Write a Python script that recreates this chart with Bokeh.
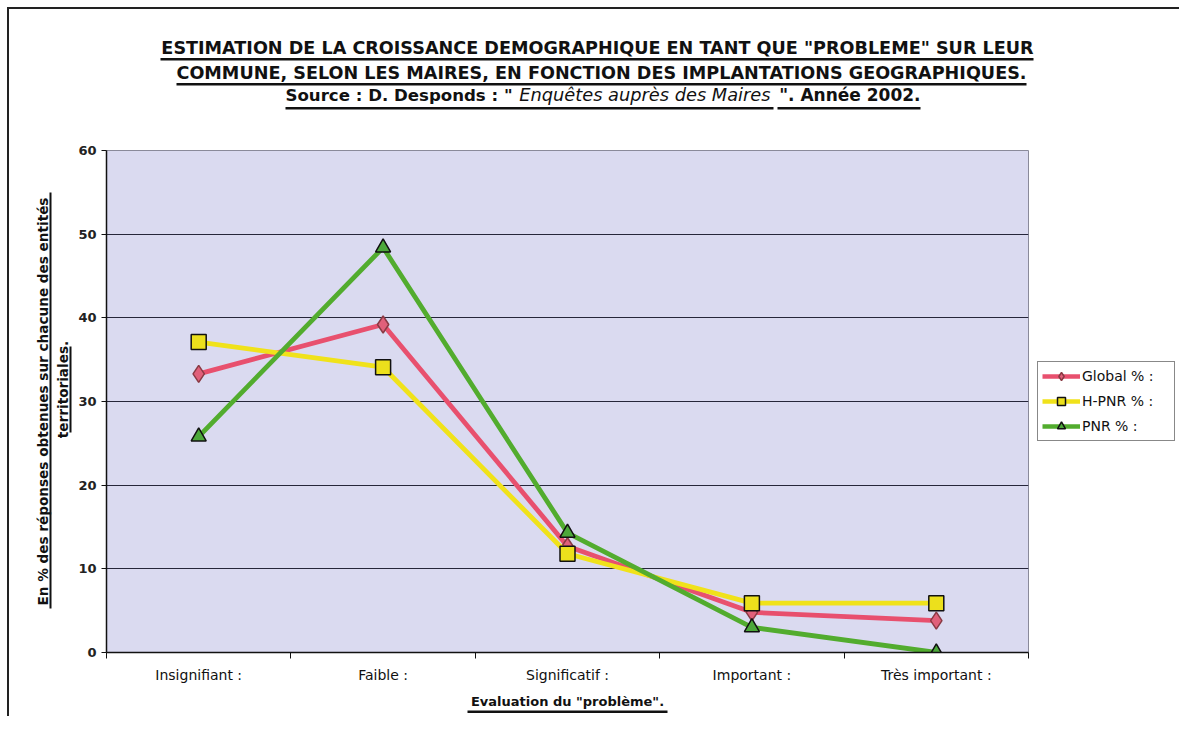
import math
from bokeh.plotting import figure
from bokeh.layouts import column, row
from bokeh.models import FixedTicker, Legend, LegendItem, Range1d
from bokeh.embed import file_html
from bokeh.resources import INLINE
from bokeh.core.properties import value

# ---------------- data ----------------
categories = ["Insignifiant :", "Faible :", "Significatif :", "Important :", "Très important :"]
global_pct = [33.3, 39.2, 12.7, 4.8, 3.8]
hpnr_pct = [37.1, 34.1, 11.8, 5.9, 5.9]
pnr_pct = [25.8, 48.4, 14.3, 3.0, 0.0]
series_names = ["Global % :", "H-PNR % :", "PNR % :"]
y_ticks = [0, 10, 20, 30, 40, 50, 60]
title_line1 = "ESTIMATION DE LA CROISSANCE DEMOGRAPHIQUE EN TANT QUE \"PROBLEME\" SUR LEUR"
title_line2 = "COMMUNE, SELON LES MAIRES, EN FONCTION DES IMPLANTATIONS GEOGRAPHIQUES."
source_a = "Source : D. Desponds : \""
source_b = "Enquêtes auprès des Maires"
source_c = "\". Année 2002."
y_title1 = "En % des réponses obtenues sur chacune des entités"
y_title2 = "territoriales."
x_title = "Evaluation du \"problème\"."

FONT = "DejaVu Sans"
INK = "#111111"
NAN = float("nan")

# ---------------- layout (page pixels) ----------------
OX, OY = 9, 9          # content origin on the page
W = 1170               # total width
MID_TOP, MID_BOT = 140, 690
B_BOT = 716
L_RIGHT = 72           # left strip: page x 9..72
R_LEFT = 1030          # right strip: page x 1030..1179
FRAME_L, FRAME_R, FRAME_T, FRAME_B = 106, 1028, 150, 652
BASE_FIX = 0.38        # alphabetic baseline correction (em)
TOP_PAD, BOT_PAD = FRAME_T - MID_TOP, MID_BOT - FRAME_B


def strip(width, height, top=0, bottom=0):
    f = figure(width=width, height=height, x_range=Range1d(0, width),
               y_range=Range1d(0, height - top - bottom),
               x_axis_type=None, y_axis_type=None, output_backend="svg", toolbar_location=None,
               min_border_left=0, min_border_right=0, min_border_top=top, min_border_bottom=bottom,
               outline_line_color=None, background_fill_color="white",
               border_fill_color="white")
    f.grid.visible = False
    return f


def make_helpers(fig, left, bottom):
    def xy(X, Y):
        return X - left, bottom - Y

    def text(txt, X, Y, size, style="bold", align="center"):
        x, y = xy(X, Y - BASE_FIX * size)
        fig.text(x=[x], y=[y], text=[txt], text_font=value(FONT), text_font_size=f"{size}px",
                 text_font_style=style, text_align=align, text_baseline="alphabetic",
                 text_color=INK)

    def line(X0, X1, Y0, Y1):
        x0, y0 = xy(X0, Y0)
        x1, y1 = xy(X1, Y1)
        fig.quad(left=[x0], right=[x1], top=[y0], bottom=[y1], fill_color=INK, line_color=None)

    return xy, text, line


# title strip: page y 9..140
T = strip(W, MID_TOP - OY)
_, t_text, t_line = make_helpers(T, OX, MID_TOP)
t_text(title_line1, 597, 54, 17.6)
t_line(160, 1033, 57.5, 60)
t_text(title_line2, 601, 79, 17.6)
t_line(176, 1026, 82.5, 85)
t_text(source_a, 285, 101, 16.6, align="left")
t_text(source_b, 770, 101, 17.8, style="italic", align="right")
t_text(source_c, 920, 101, 17, align="right")
t_line(285, 773, 106.5, 109)
t_line(777, 920, 106.5, 109)

# left strip (rotated y title); its frame spans page y FRAME_T..FRAME_B
L = strip(L_RIGHT - OX, MID_BOT - MID_TOP, TOP_PAD, BOT_PAD)
l_xy, _, l_line = make_helpers(L, OX, FRAME_B)


def l_text(txt, X, Y, size):
    x, y = l_xy(X, Y)
    L.text(x=[x], y=[y], text=[txt], text_font=value(FONT), text_font_size=f"{size}px",
           text_font_style="bold", text_align="center", text_baseline="middle",
           angle=math.pi / 2, text_color=INK)


l_text(y_title1, 42, 401, 13.6)
l_line(49, 51, 192, 608)
l_text(y_title2, 62, 389, 13.6)
l_line(69, 71, 346, 432)

# bottom strip (x title)
B = strip(W, B_BOT - MID_BOT)
_, b_text, b_line = make_helpers(B, OX, B_BOT)
b_text(x_title, 567, 706, 13)
b_line(467, 667, 710, 712.5)

# ---------------- main chart ----------------
xs = [i + 0.5 for i in range(len(categories))]
p = figure(width=R_LEFT - L_RIGHT, height=MID_BOT - MID_TOP,
           x_range=Range1d(0, len(categories)), y_range=Range1d(0, 60),
           output_backend="svg", toolbar_location=None,
           min_border_left=FRAME_L - L_RIGHT, min_border_top=TOP_PAD,
           min_border_right=R_LEFT - FRAME_R, min_border_bottom=BOT_PAD,
           background_fill_color="#dadaf0", border_fill_color="white")
p.outline_line_color = "#8a8a9a"
p.outline_line_width = 1

p.xgrid.visible = False
p.ygrid.grid_line_color = "#26263a"
p.ygrid.grid_line_width = 1.2
p.ygrid.ticker = FixedTicker(ticks=y_ticks)

p.xaxis.ticker = FixedTicker(ticks=xs, minor_ticks=list(range(len(categories) + 1)))
p.xaxis.major_label_overrides = {x: c for x, c in zip(xs, categories)}
p.xaxis.major_tick_line_color = None
p.xaxis.minor_tick_line_color = INK
p.xaxis.minor_tick_out = 6
p.xaxis.minor_tick_in = 0
p.xaxis.axis_line_color = INK
p.xaxis.axis_line_width = 1.5
p.xaxis.major_label_standoff = 8
p.xaxis.major_label_text_font = FONT
p.xaxis.major_label_text_font_size = "14px"
p.xaxis.major_label_text_color = INK

p.yaxis.ticker = FixedTicker(ticks=y_ticks)
p.yaxis.major_tick_out = 5
p.yaxis.major_tick_in = 0
p.yaxis.major_tick_line_color = INK
p.yaxis.minor_tick_line_color = None
p.yaxis.axis_line_color = INK
p.yaxis.axis_line_width = 1.5
p.yaxis.major_label_standoff = 5
p.yaxis.major_label_text_font = FONT
p.yaxis.major_label_text_font_style = "bold"
p.yaxis.major_label_text_font_size = "13px"
p.yaxis.major_label_text_color = "#222222"

styles = [
    dict(data=global_pct, line="#e8506e", marker="diamond", fill="#e0607a", edge="#8a3a44", size=17),
    dict(data=hpnr_pct, line="#f0e21a", marker="square", fill="#ece01c", edge=INK, size=15),
    dict(data=pnr_pct, line="#52ac2e", marker="triangle", fill="#4ca83a", edge=INK, size=15),
]
for st in styles:
    p.line(xs, st["data"], line_color=st["line"], line_width=4.8)
    p.scatter(xs, st["data"], marker=st["marker"], size=st["size"], fill_color=st["fill"],
              line_color=st["edge"], line_width=1.5)

# right strip holding the legend (legend glyph proxies carry no drawable data)
R = strip(OX + W - R_LEFT, MID_BOT - MID_TOP, TOP_PAD, BOT_PAD)
items = []
for name, st in zip(series_names, styles):
    lr = R.line(x=[NAN, NAN], y=[NAN, NAN], line_color=st["line"], line_width=4.5)
    sr = R.scatter(x=[NAN], y=[NAN], marker=st["marker"], size=st["size"] - 2,
                   fill_color=st["fill"], line_color=st["edge"], line_width=1.5)
    items.append(LegendItem(label=name, renderers=[lr, sr]))

legend = Legend(items=items, location=(1037 - R_LEFT, FRAME_B - 441),
                background_fill_color="white", background_fill_alpha=1.0,
                border_line_color=INK, border_line_width=1.2,
                label_text_font=FONT, label_text_font_size="14px", label_text_color=INK,
                glyph_width=38, glyph_height=20, label_width=88,
                padding=4, spacing=5, label_standoff=2, margin=0)
R.add_layout(legend)

page = column(T, row(L, p, R), B)
page.styles = {"margin-left": "7px", "margin-top": "7px",
               "border-left": "2px solid #222222", "border-top": "2px solid #222222"}

open("out.html", "w").write(file_html(page, INLINE))
